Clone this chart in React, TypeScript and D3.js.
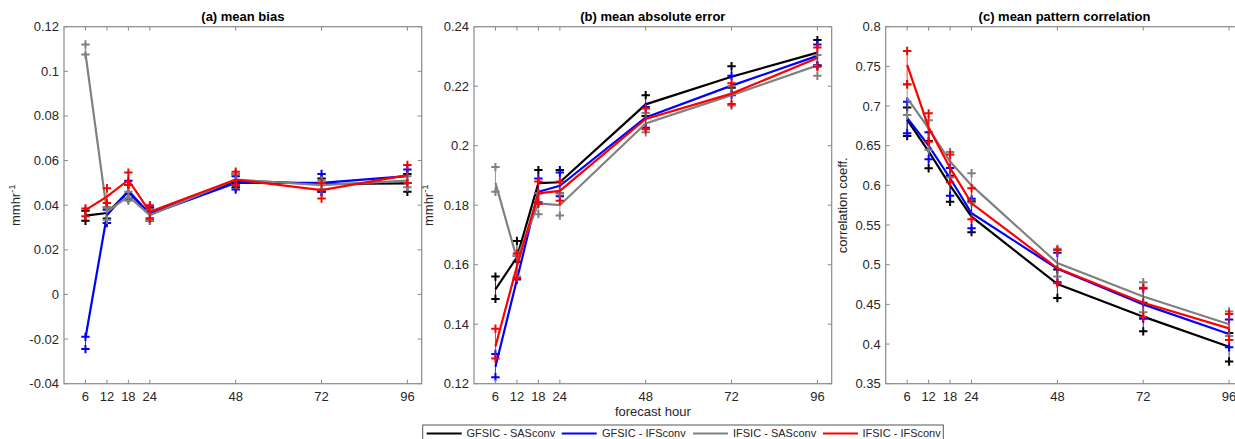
import React from "react";
import * as d3 from "d3";

const hours = [6, 12, 18, 24, 48, 72, 96];
const seriesNames = ["GFSIC - SASconv", "GFSIC - IFSconv", "IFSIC - SASconv", "IFSIC - IFSconv"];
const seriesColors = ["#000000", "#0000ff", "#808080", "#ff0000"];

// (a) mean bias
const biasBlackMean = [0.0353, 0.0365, 0.046, 0.036, 0.051, 0.0495, 0.0498];
const biasBlackLo = [0.033, 0.034, 0.043, 0.033, 0.048, 0.046, 0.046];
const biasBlackHi = [0.0375, 0.039, 0.049, 0.039, 0.054, 0.052, 0.054];
const biasBlueMean = [-0.0195, 0.0355, 0.0465, 0.036, 0.05, 0.05, 0.053];
const biasBlueLo = [-0.0245, 0.032, 0.043, 0.034, 0.047, 0.046, 0.05];
const biasBlueHi = [-0.019, 0.038, 0.051, 0.039, 0.053, 0.054, 0.056];
const biasGrayMean = [0.108, 0.037, 0.044, 0.0355, 0.0515, 0.049, 0.051];
const biasGrayLo = [0.1075, 0.0335, 0.042, 0.033, 0.049, 0.047, 0.048];
const biasGrayHi = [0.112, 0.039, 0.046, 0.038, 0.054, 0.051, 0.053];
const biasRedMean = [0.0378, 0.0438, 0.0513, 0.037, 0.0515, 0.0468, 0.0535];
const biasRedLo = [0.035, 0.041, 0.049, 0.034, 0.049, 0.043, 0.05];
const biasRedHi = [0.0385, 0.0476, 0.0546, 0.04, 0.055, 0.05, 0.058];

// (b) mean absolute error
const maeBlackMean = [0.1517, 0.1625, 0.1874, 0.1877, 0.2139, 0.2232, 0.2313];
const maeBlackLo = [0.1485, 0.161, 0.184, 0.184, 0.21, 0.2195, 0.227];
const maeBlackHi = [0.156, 0.168, 0.1918, 0.1918, 0.217, 0.2267, 0.2355];
const maeBlueMean = [0.1257, 0.155, 0.1845, 0.1865, 0.2095, 0.2202, 0.2302];
const maeBlueLo = [0.1222, 0.155, 0.181, 0.183, 0.206, 0.217, 0.227];
const maeBlueHi = [0.13, 0.163, 0.189, 0.191, 0.213, 0.2235, 0.234];
const maeGrayMean = [0.1875, 0.162, 0.1806, 0.18, 0.2075, 0.217, 0.227];
const maeGrayLo = [0.1845, 0.156, 0.177, 0.1765, 0.2045, 0.2135, 0.2235];
const maeGrayHi = [0.1928, 0.163, 0.184, 0.184, 0.211, 0.22, 0.2305];
const maeRedMean = [0.1325, 0.1595, 0.184, 0.1848, 0.209, 0.2175, 0.2295];
const maeRedLo = [0.1285, 0.1555, 0.1805, 0.1815, 0.2055, 0.214, 0.2265];
const maeRedHi = [0.1385, 0.1638, 0.188, 0.188, 0.2125, 0.221, 0.233];

// (c) mean pattern correlation
const corBlackMean = [0.6824, 0.643, 0.6, 0.5605, 0.4755, 0.4345, 0.3966];
const corBlackLo = [0.6622, 0.6215, 0.5794, 0.541, 0.458, 0.416, 0.378];
const corBlackHi = [0.698, 0.656, 0.612, 0.58, 0.494, 0.452, 0.414];
const corBlueMean = [0.685, 0.65, 0.609, 0.5648, 0.495, 0.45, 0.4127];
const corBlueLo = [0.6656, 0.633, 0.587, 0.546, 0.478, 0.432, 0.396];
const corBlueHi = [0.7055, 0.667, 0.622, 0.583, 0.515, 0.47, 0.431];
const corGrayMean = [0.71, 0.672, 0.63, 0.6, 0.502, 0.46, 0.425];
const corGrayLo = [0.6887, 0.645, 0.61, 0.578, 0.485, 0.44, 0.41];
const corGrayHi = [0.727, 0.682, 0.642, 0.6152, 0.52, 0.478, 0.441];
const corRedMean = [0.752, 0.673, 0.622, 0.5774, 0.4955, 0.452, 0.4198];
const corRedLo = [0.7274, 0.655, 0.604, 0.5572, 0.4766, 0.434, 0.405];
const corRedHi = [0.7694, 0.6908, 0.639, 0.5963, 0.5185, 0.471, 0.438];

const biasTicks = [-0.04, -0.02, 0, 0.02, 0.04, 0.06, 0.08, 0.1, 0.12];
const maeTicks = [0.12, 0.14, 0.16, 0.18, 0.2, 0.22, 0.24];
const corTicks = [0.35, 0.4, 0.45, 0.5, 0.55, 0.6, 0.65, 0.7, 0.75, 0.8];

const panels = [
  {
    title: "(a) mean bias",
    domain: [-0.04, 0.12],
    ticks: biasTicks,
    ylabel: "mmhr",
    sup: "-1",
    labelOffset: 44,
    series: [
      [biasBlackMean, biasBlackLo, biasBlackHi],
      [biasBlueMean, biasBlueLo, biasBlueHi],
      [biasGrayMean, biasGrayLo, biasGrayHi],
      [biasRedMean, biasRedLo, biasRedHi],
    ],
  },
  {
    title: "(b) mean absolute error",
    domain: [0.12, 0.24],
    ticks: maeTicks,
    ylabel: "mmhr",
    sup: "-1",
    labelOffset: 41,
    series: [
      [maeBlackMean, maeBlackLo, maeBlackHi],
      [maeBlueMean, maeBlueLo, maeBlueHi],
      [maeGrayMean, maeGrayLo, maeGrayHi],
      [maeRedMean, maeRedLo, maeRedHi],
    ],
  },
  {
    title: "(c) mean pattern correlation",
    domain: [0.35, 0.8],
    ticks: corTicks,
    ylabel: "correlation coeff.",
    sup: "",
    labelOffset: 39,
    series: [
      [corBlackMean, corBlackLo, corBlackHi],
      [corBlueMean, corBlueLo, corBlueHi],
      [corGrayMean, corGrayLo, corGrayHi],
      [corRedMean, corRedLo, corRedHi],
    ],
  },
];

const W = 1235;
const H = 439;
const panelLeft = [64, 474, 885.7];
const panelW = 357.7;
const top = 26.7;
const bottom = 383.7;
const font = "'Liberation Sans', Arial, Helvetica, sans-serif";
const axisColor = "#8a8a8a";
const textColor = "#262626";

function fmt(v: number) {
  return String(+v.toFixed(4));
}

function Panel({ p, left }: { p: any; left: number }) {
  const x = d3.scaleLinear().domain([0, 100]).range([left, left + panelW]);
  const y = d3.scaleLinear().domain(p.domain).range([bottom, top]);
  const line = d3
    .line<number>()
    .x((_, i) => x(hours[i]))
    .y((d) => y(d));
  const tl = 4;
  const ms = 4.2;
  return (
    <g>
      <text
        x={left + panelW / 2}
        y={top - 5.5}
        textAnchor="middle"
        fontFamily={font}
        fontWeight="bold"
        fontSize={13}
        fill="#000"
      >
        {p.title}
      </text>
      {p.series.map((s: number[][], si: number) => (
        <g key={si}>
          {hours.map((h, i) => (
            <line
              key={"e" + i}
              x1={x(h)}
              x2={x(h)}
              y1={y(s[1][i])}
              y2={y(s[2][i])}
              stroke={seriesColors[si]}
              strokeWidth={1}
              opacity={0.8}
            />
          ))}
          <path d={line(s[0]) || ""} fill="none" stroke={seriesColors[si]} strokeWidth={2.2} />
          {hours.map((h, i) =>
            [s[1][i], s[2][i]].map((v, k) => (
              <path
                key={"m" + i + "_" + k}
                d={`M${x(h) - ms},${y(v)}H${x(h) + ms}M${x(h)},${y(v) - ms}V${y(v) + ms}`}
                stroke={seriesColors[si]}
                strokeWidth={2}
                fill="none"
              />
            ))
          )}
        </g>
      ))}
      <rect
        x={left}
        y={top}
        width={panelW}
        height={bottom - top}
        fill="none"
        stroke={axisColor}
        strokeWidth={1.2}
      />
      {hours.map((h) => (
        <g key={"xt" + h}>
          <line x1={x(h)} x2={x(h)} y1={bottom} y2={bottom - tl} stroke={axisColor} />
          <line x1={x(h)} x2={x(h)} y1={top} y2={top + tl} stroke={axisColor} />
          <text
            x={x(h)}
            y={bottom + 17}
            textAnchor="middle"
            fontFamily={font}
            fontSize={13}
            fill={textColor}
          >
            {h}
          </text>
        </g>
      ))}
      {p.ticks.map((t: number) => (
        <g key={"yt" + t}>
          <line x1={left} x2={left + tl} y1={y(t)} y2={y(t)} stroke={axisColor} />
          <line x1={left + panelW} x2={left + panelW - tl} y1={y(t)} y2={y(t)} stroke={axisColor} />
          <text
            x={left - 5}
            y={y(t) + 4.5}
            textAnchor="end"
            fontFamily={font}
            fontSize={13}
            fill={textColor}
          >
            {fmt(t)}
          </text>
        </g>
      ))}
      <text
        transform={`translate(${left - p.labelOffset},${(top + bottom) / 2}) rotate(-90)`}
        textAnchor="middle"
        fontFamily={font}
        fontSize={13}
        fill={textColor}
      >
        {p.ylabel}
        {p.sup ? (
          <tspan dy={-5} fontSize={9.5}>
            {p.sup}
          </tspan>
        ) : null}
      </text>
    </g>
  );
}

export default function App() {
  const legendItems = [
    { lx: 426.7, tx: 466.5 },
    { lx: 561.7, tx: 602 },
    { lx: 693, tx: 733 },
    { lx: 823, tx: 862.5 },
  ];
  return (
    <svg
      width={W}
      height={H}
      style={{ position: "absolute", left: 0, top: 0, background: "#fff" }}
      xmlns="http://www.w3.org/2000/svg"
    >
      <rect x={0} y={0} width={W} height={H} fill="#fff" />
      {panels.map((p, i) => (
        <Panel key={i} p={p} left={panelLeft[i]} />
      ))}
      <text
        x={panelLeft[1] + panelW / 2}
        y={415.5}
        textAnchor="middle"
        fontFamily={font}
        fontSize={13}
        fill={textColor}
      >
        forecast hour
      </text>
      <rect x={422.7} y={425} width={520.6} height={20} fill="#fff" stroke="#555" strokeWidth={1} />
      {legendItems.map((it, i) => (
        <g key={i}>
          <line
            x1={it.lx}
            x2={it.lx + 35}
            y1={433.5}
            y2={433.5}
            stroke={seriesColors[i]}
            strokeWidth={2.2}
          />
          <text x={it.tx} y={437.2} fontFamily={font} fontSize={11} fill={textColor}>
            {seriesNames[i]}
          </text>
        </g>
      ))}
    </svg>
  );
}
